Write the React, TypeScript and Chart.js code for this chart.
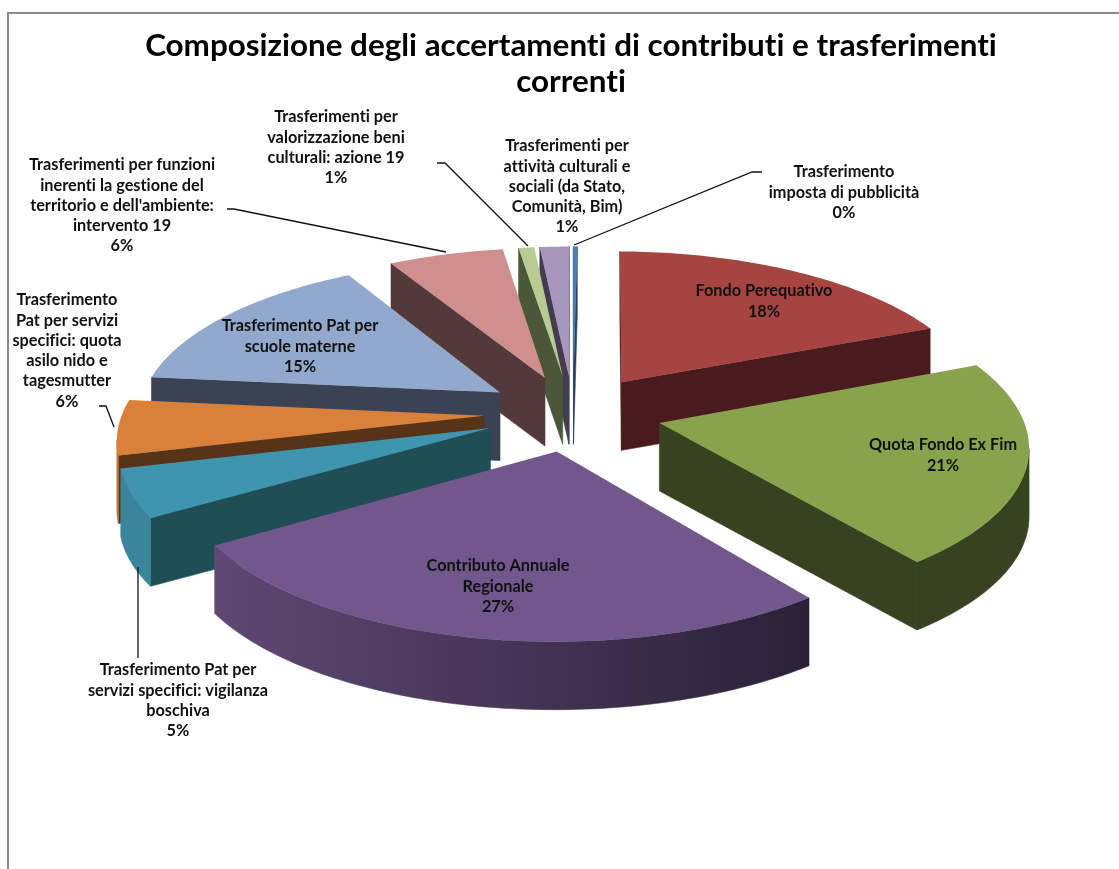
import React, { useEffect, useRef } from "react";
import { Chart, registerables } from "chart.js";

Chart.register(...registerables);

const categories = [
  "Fondo Perequativo",
  "Quota Fondo Ex Fim",
  "Contributo Annuale Regionale",
  "Trasferimento Pat per servizi specifici: vigilanza boschiva",
  "Trasferimento Pat per servizi specifici: quota asilo nido e tagesmutter",
  "Trasferimento Pat per scuole materne",
  "Trasferimenti per funzioni inerenti la gestione del territorio e dell'ambiente: intervento 19",
  "Trasferimenti per valorizzazione beni culturali: azione 19",
  "Trasferimenti per attività culturali e sociali (da Stato, Comunità, Bim)",
  "Trasferimento imposta di pubblicità",
];
const values = [18.5, 20.8, 26.5, 4.9, 5.6, 15.1, 5.9, 0.8, 1.5, 0.2];
const percents = ["18%", "21%", "27%", "5%", "6%", "15%", "6%", "1%", "1%", "0%"];
const titleLines = ["Composizione degli accertamenti di contributi e trasferimenti", "correnti"];

const labelLines = [
  ["Fondo Perequativo"],
  ["Quota Fondo Ex Fim"],
  ["Contributo Annuale", "Regionale"],
  ["Trasferimento Pat per", "servizi specifici: vigilanza", "boschiva"],
  ["Trasferimento", "Pat per servizi", "specifici: quota", "asilo nido e", "tagesmutter"],
  ["Trasferimento Pat per", "scuole materne"],
  ["Trasferimenti per funzioni", "inerenti la gestione del", "territorio e dell'ambiente:", "intervento 19"],
  ["Trasferimenti per", "valorizzazione beni", "culturali: azione 19"],
  ["Trasferimenti per", "attività culturali e", "sociali (da Stato,", "Comunità, Bim)"],
  ["Trasferimento", "imposta di pubblicità"],
];
// centre x and first line y of every label block
const labelAnchors = [
  [764, 291], [943, 445], [498, 566], [178, 670], [67, 300],
  [300, 326], [122, 165], [336, 117], [567, 146], [844, 172],
];
const leaders: number[][][] = [
  [], [], [],
  [[138, 658], [138, 567]],
  [[99, 406], [106, 406], [114, 427]],
  [],
  [[227, 209], [234, 209], [446, 252]],
  [[437, 163], [445, 163], [528, 246]],
  [],
  [[762, 172], [752, 172], [574, 245]],
];

const topColors = ["#a64442", "#87a44d", "#71578c", "#3f95ae", "#d9813b", "#92a8cd", "#ce8f8d", "#b7cb92", "#a797bc", "#4a7ebb"];
const cutColors = ["#4a1b1c", "#384120", "#2a2138", "#204e57", "#573418", "#3a4253", "#54393a", "#4c5638", "#433c50", "#28405c"];
const rimLeft = ["#6b2a28", "#384120", "#5f4874", "#3a849c", "#c77733", "#3a4253", "#54393a", "#4c5638", "#433c50", "#28405c"];
const rimRight = ["#4a1b1c", "#384120", "#2a2138", "#3a849c", "#c77733", "#3a4253", "#54393a", "#4c5638", "#433c50", "#28405c"];

const view = { cx: 573, cy: 413, rx: 362, ry: 155, persp: 0.128, explode: 0.245, depth: 68 };
const FONT = 'Lato, "Open Sans", sans-serif';

function project(u: number, v: number) {
  const s = 1 / (1 - view.persp * v);
  return [view.cx + view.rx * u * s, view.cy + view.ry * v * s];
}

function extrude(ctx: CanvasRenderingContext2D, run: number[][], fill: any) {
  ctx.fillStyle = fill;
  ctx.strokeStyle = fill;
  ctx.lineWidth = 0.6;
  ctx.beginPath();
  run.forEach((p, i) => (i ? ctx.lineTo(p[0], p[1]) : ctx.moveTo(p[0], p[1])));
  for (let i = run.length - 1; i >= 0; i--) ctx.lineTo(run[i][0], run[i][1] + view.depth);
  ctx.closePath();
  ctx.fill();
  ctx.stroke();
}

const pie3d = {
  id: "pie3d",
  beforeDraw(chart: any) {
    // plain glyphs, no "ti" ligatures
    chart.ctx.textRendering = "optimizeSpeed";
  },
  beforeDatasetsDraw(chart: any) {
    const ctx = chart.ctx as CanvasRenderingContext2D;
    const arcs = chart.getDatasetMeta(0).data as any[];
    const slices = arcs.map((arc, index) => {
      const a0 = arc.startAngle + Math.PI / 2;
      const a1 = arc.endAngle + Math.PI / 2;
      const mid = (a0 + a1) / 2;
      return { index, a0, a1, ou: view.explode * Math.sin(mid), ov: -view.explode * Math.cos(mid) };
    });
    slices.sort((a, b) => a.ov - b.ov);
    for (const s of slices) {
      const steps = Math.max(2, Math.ceil((s.a1 - s.a0) / 0.02));
      const apex = project(s.ou, s.ov);
      const rim: number[][] = [];
      for (let k = 0; k <= steps; k++) {
        const t = s.a0 + ((s.a1 - s.a0) * k) / steps;
        rim.push(project(s.ou + Math.sin(t), s.ov - Math.cos(t)));
      }
      const first = rim[0];
      const last = rim[rim.length - 1];
      if (first[0] < apex[0]) extrude(ctx, [apex, first], cutColors[s.index]);
      if (apex[0] < last[0]) extrude(ctx, [last, apex], cutColors[s.index]);

      const xs = rim.map((p) => p[0]);
      const grad = ctx.createLinearGradient(Math.min(...xs), 0, Math.max(...xs), 0);
      grad.addColorStop(0, rimLeft[s.index]);
      grad.addColorStop(1, rimRight[s.index]);
      let run: number[][] = [];
      for (let k = 0; k < rim.length - 1; k++) {
        if (rim[k + 1][0] < rim[k][0]) {
          if (!run.length) run.push(rim[k]);
          run.push(rim[k + 1]);
        } else if (run.length) {
          extrude(ctx, run, grad);
          run = [];
        }
      }
      if (run.length) extrude(ctx, run, grad);

      ctx.fillStyle = topColors[s.index];
      ctx.beginPath();
      ctx.moveTo(apex[0], apex[1]);
      rim.forEach((p) => ctx.lineTo(p[0], p[1]));
      ctx.closePath();
      ctx.fill();
    }
    return false;
  },
  afterDraw(chart: any) {
    const ctx = chart.ctx as CanvasRenderingContext2D;
    ctx.save();
    ctx.strokeStyle = "#8a8a8a";
    ctx.lineWidth = 2;
    ctx.beginPath();
    ctx.moveTo(8, 869);
    ctx.lineTo(8, 13);
    ctx.lineTo(1119, 13);
    ctx.stroke();

    ctx.strokeStyle = "#111";
    ctx.lineWidth = 1.3;
    for (const path of leaders) {
      if (!path.length) continue;
      ctx.beginPath();
      path.forEach((p, i) => (i ? ctx.lineTo(p[0], p[1]) : ctx.moveTo(p[0], p[1])));
      ctx.stroke();
    }
    ctx.fillStyle = "#111";
    ctx.font = `700 16.3px ${FONT}`;
    ctx.textAlign = "center";
    ctx.textBaseline = "middle";
    labelLines.forEach((lines, i) => {
      const [x, y] = labelAnchors[i];
      [...lines, percents[i]].forEach((line, j) => ctx.fillText(line, x, y + j * 20.3));
    });
    ctx.restore();
  },
};

export default function App() {
  const ref = useRef<HTMLCanvasElement>(null);
  useEffect(() => {
    document.body.style.margin = "0";
    const chart = new Chart(ref.current!, {
      type: "pie",
      data: {
        labels: categories,
        datasets: [{ data: values, backgroundColor: topColors, borderWidth: 0 }],
      },
      options: {
        responsive: false,
        animation: false,
        rotation: 0.7,
        layout: { padding: { top: 28, left: 23 } },
        plugins: {
          legend: { display: false },
          tooltip: { enabled: false },
          title: {
            display: true,
            text: titleLines,
            color: "#000",
            font: { family: FONT, size: 31.4, weight: "bold", lineHeight: 1.15 },
            padding: 0,
          },
        },
      },
      plugins: [pie3d],
    });
    return () => chart.destroy();
  }, []);
  return (
    <div style={{ width: 1119, height: 869, background: "#fff" }}>
      <canvas ref={ref} width={1119} height={869} style={{ display: "block" }} />
    </div>
  );
}
